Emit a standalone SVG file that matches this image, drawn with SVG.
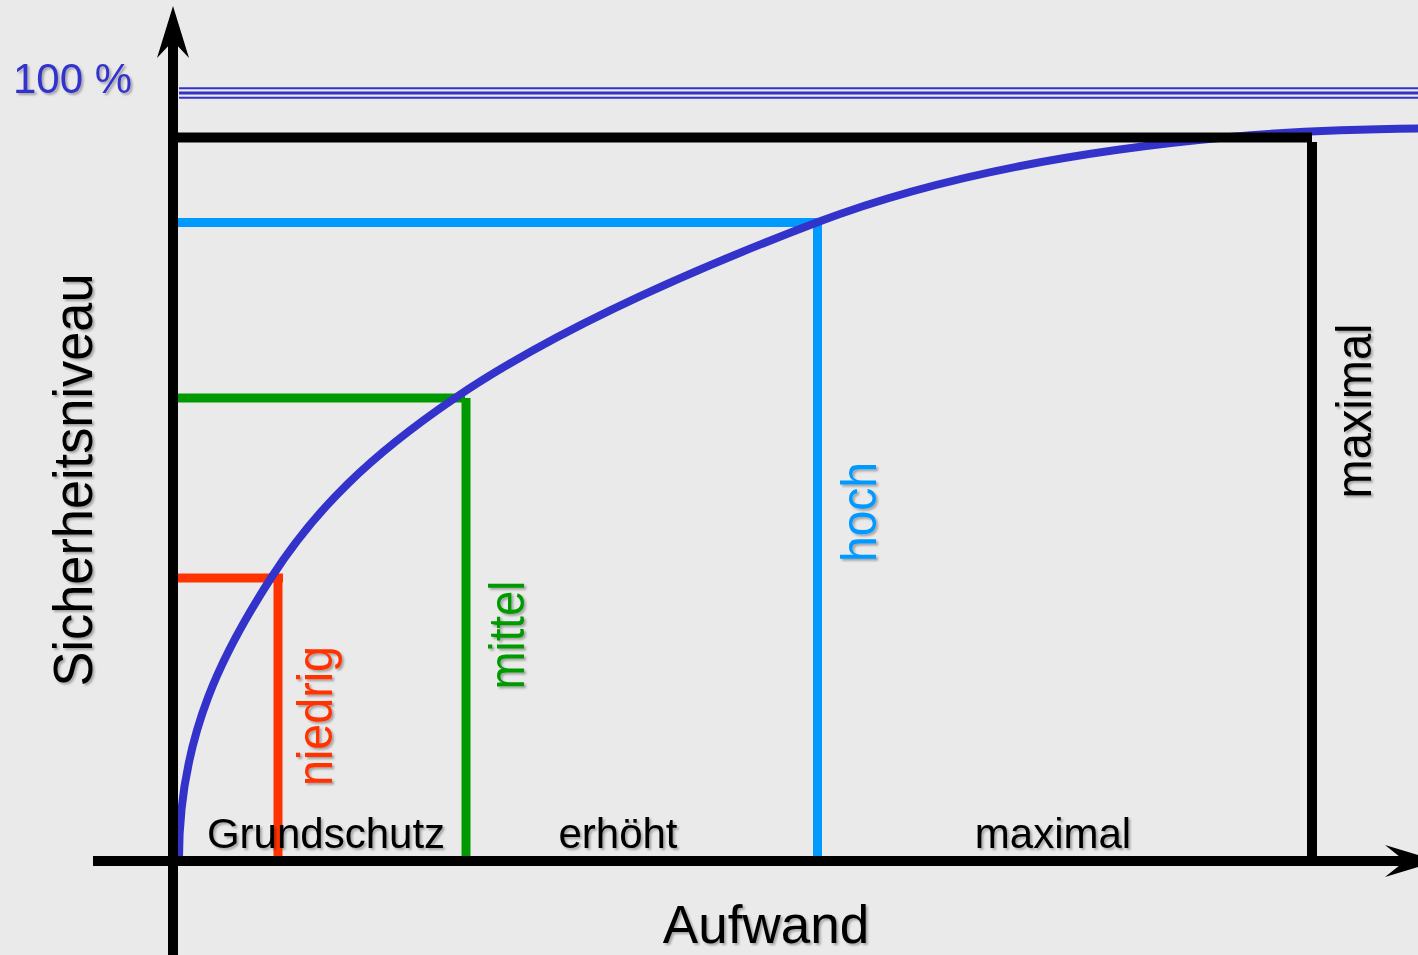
<svg xmlns="http://www.w3.org/2000/svg" width="1418" height="955" viewBox="0 0 1418 955">
  <defs>
    <filter id="shadow" x="-5%" y="-5%" width="110%" height="110%">
      <feDropShadow dx="2" dy="2" stdDeviation="0.8" flood-color="#000" flood-opacity="0.3"/>
    </filter>
  </defs>
  <style>
    text { font-family: "Liberation Sans", Arial, sans-serif; }
    .lbl { font-size: 42px; fill: #000; text-anchor: middle; }
    .rot { font-size: 50px; text-anchor: middle; }
    .black { stroke: #000; stroke-width: 10; fill: none; }
  </style>
  <rect x="0" y="0" width="1418" height="955" fill="#eaeaea"/>

  <g id="connectors">
    <g id="line-100" stroke="#3333cc" fill="none">
      <line x1="179" y1="88.3" x2="1418" y2="88.3" stroke-width="2"/>
      <line x1="179" y1="93" x2="1418" y2="93" stroke-width="2.8"/>
      <line x1="179" y1="97.7" x2="1418" y2="97.7" stroke-width="2"/>
    </g>
    <g id="level-niedrig">
      <line x1="178" y1="578" x2="283" y2="578" stroke="#ff3300" stroke-width="9"/>
      <line x1="278" y1="576" x2="278" y2="856" stroke="#ff3300" stroke-width="9"/>
    </g>
    <g id="level-mittel">
      <line x1="178" y1="398" x2="465" y2="398" stroke="#009900" stroke-width="9"/>
      <line x1="466" y1="398" x2="466" y2="856" stroke="#009900" stroke-width="9"/>
    </g>
    <g id="level-hoch">
      <line x1="178" y1="222.5" x2="817" y2="222.5" stroke="#0099ff" stroke-width="9"/>
      <line x1="817.5" y1="222" x2="817.5" y2="856" stroke="#0099ff" stroke-width="9"/>
    </g>
    <path id="curve" fill="none" stroke="#3333cc" stroke-width="8"
      d="M179,858 C179,733 226,647.75 271,578 C316,508.25 370,455.8 455,398 C540,340.2 658,282.8 818,222 C928,180.2 1065,151.85 1230,137 C1290,131.6 1350,129.2 1420,128.5"/>
    <g id="level-maximal" class="black">
      <line x1="173" y1="137.5" x2="1312" y2="137.5"/>
      <line x1="1312" y1="142" x2="1312" y2="861"/>
    </g>
    <g id="axes">
      <line x1="173" y1="40" x2="173" y2="955" stroke="#000" stroke-width="10"/>
      <path d="M173,6 L189,58 L173,41 L157,58 Z" fill="#000"/>
      <line x1="93" y1="861" x2="1410" y2="861" stroke="#000" stroke-width="10"/>
      <path d="M1438,861 L1385,845 L1405,861 L1385,877 Z" fill="#000"/>
    </g>
  </g>

  <g id="label-100" filter="url(#shadow)">
    <text x="13" y="93" font-size="42" fill="#3333cc">100 %</text>
  </g>
  <g id="label-y" filter="url(#shadow)">
    <text transform="translate(92,480) rotate(-90)" font-size="55" text-anchor="middle" fill="#000" textLength="413" lengthAdjust="spacingAndGlyphs">Sicherheitsniveau</text>
  </g>
  <g id="label-x" filter="url(#shadow)">
    <text x="766" y="943" font-size="53" text-anchor="middle" fill="#000">Aufwand</text>
  </g>
  <g id="node-niedrig" filter="url(#shadow)">
    <text class="rot" transform="translate(332,716) rotate(-90)" fill="#ff3300" textLength="140" lengthAdjust="spacingAndGlyphs">niedrig</text>
  </g>
  <g id="node-mittel" filter="url(#shadow)">
    <text class="rot" transform="translate(524,635) rotate(-90)" fill="#009900" textLength="109" lengthAdjust="spacingAndGlyphs">mittel</text>
  </g>
  <g id="node-hoch" filter="url(#shadow)">
    <text class="rot" transform="translate(876,512) rotate(-90)" fill="#0099ff" textLength="100" lengthAdjust="spacingAndGlyphs">hoch</text>
  </g>
  <g id="node-maximal-v" filter="url(#shadow)">
    <text class="rot" transform="translate(1371,411) rotate(-90)" fill="#000" textLength="175" lengthAdjust="spacingAndGlyphs">maximal</text>
  </g>
  <g id="node-grundschutz" filter="url(#shadow)">
    <text class="lbl" x="326" y="848">Grundschutz</text>
  </g>
  <g id="node-erhoeht" filter="url(#shadow)">
    <text class="lbl" x="618" y="848">erhöht</text>
  </g>
  <g id="node-maximal-h" filter="url(#shadow)">
    <text class="lbl" x="1053" y="848">maximal</text>
  </g>
</svg>
